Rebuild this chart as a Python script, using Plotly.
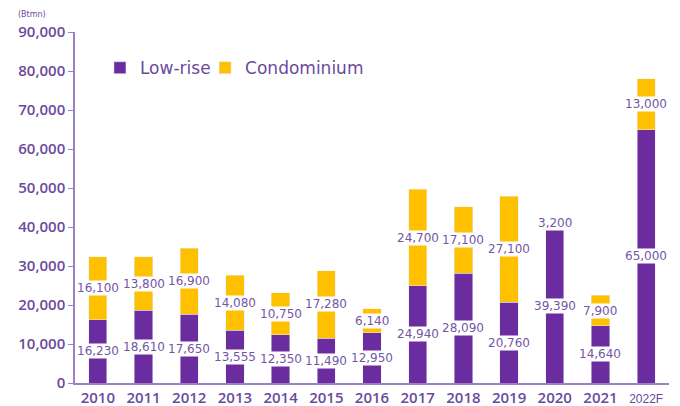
import plotly.graph_objects as go

years = ["2010", "2011", "2012", "2013", "2014", "2015", "2016", "2017", "2018", "2019", "2020", "2021", "2022F"]
low_rise = [16230, 18610, 17650, 13555, 12350, 11490, 12950, 24940, 28090, 20760, 39390, 14640, 65000]
condo = [16100, 13800, 16900, 14080, 10750, 17280, 6140, 24700, 17100, 27100, 3200, 7900, 13000]
y_ticks = [0, 10000, 20000, 30000, 40000, 50000, 60000, 70000, 80000, 90000]

PURPLE = "#6a2c9f"
YELLOW = "#ffc000"
TXT = "#6b4a9e"
LBL = "#7356a6"
AXIS = "#9b80c4"
FONT = "DejaVu Sans"
TICKFONT = "Open Sans"

x_text = [y if not y.endswith("F") else
          f'<span style="font-weight:normal;font-size:12px;font-family:Liberation Sans">{y}</span>'
          for y in years]

fig = go.Figure()
fig.add_trace(go.Bar(x=years, y=low_rise, name="Low-rise", marker_color=PURPLE, width=0.4,
                     legend="legend", showlegend=True))
fig.add_trace(go.Bar(x=years, y=condo, name="Condominium", marker_color=YELLOW, width=0.4,
                     legend="legend2", showlegend=True))

annotations = []
for i, (lr, cd) in enumerate(zip(low_rise, condo)):
    annotations.append(dict(x=i, y=lr / 2, text=f"{lr:,}", showarrow=False,
                            bgcolor="white", borderpad=0,
                            font=dict(family=FONT, size=12, color=LBL)))
    annotations.append(dict(x=i, y=lr + cd / 2, text=f"{cd:,}", showarrow=False,
                            bgcolor="white", borderpad=0,
                            font=dict(family=FONT, size=12, color=LBL)))
annotations.append(dict(xref="paper", yref="paper", x=-0.1, y=1.05, xanchor="left", yanchor="middle",
                        text="(Btmn)", showarrow=False, font=dict(family=FONT, size=8, color=TXT)))

legend_style = dict(orientation="h", y=0.897, xanchor="left", yanchor="middle",
                    font=dict(family=FONT, size=17, color=TXT),
                    bgcolor="rgba(0,0,0,0)")

fig.update_layout(
    barmode="stack",
    showlegend=True,
    width=672, height=398,
    margin=dict(l=67, r=11, t=24, b=23),
    plot_bgcolor="white", paper_bgcolor="white",
    font=dict(family=FONT, color=TXT),
    legend=dict(x=0.042, **legend_style),
    legend2=dict(x=0.219, **legend_style),
    annotations=annotations,
    yaxis=dict(range=[0, 90000], tickvals=y_ticks, tickformat=",", showgrid=False,
               showline=True, linecolor=AXIS, linewidth=1.5, ticks="outside",
               ticklen=5, tickcolor=AXIS, automargin=False,
               tickfont=dict(family=TICKFONT, size=15, color=TXT, weight=600), zeroline=False),
    xaxis=dict(type="category", range=[-0.5, len(years) - 0.5], showline=True,
               tickvals=years, ticktext=x_text, automargin=False,
               linecolor=AXIS, linewidth=1.5, showgrid=False,
               tickfont=dict(family=TICKFONT, size=15, color=TXT, weight=600)),
)

fig.write_html("out.html")
